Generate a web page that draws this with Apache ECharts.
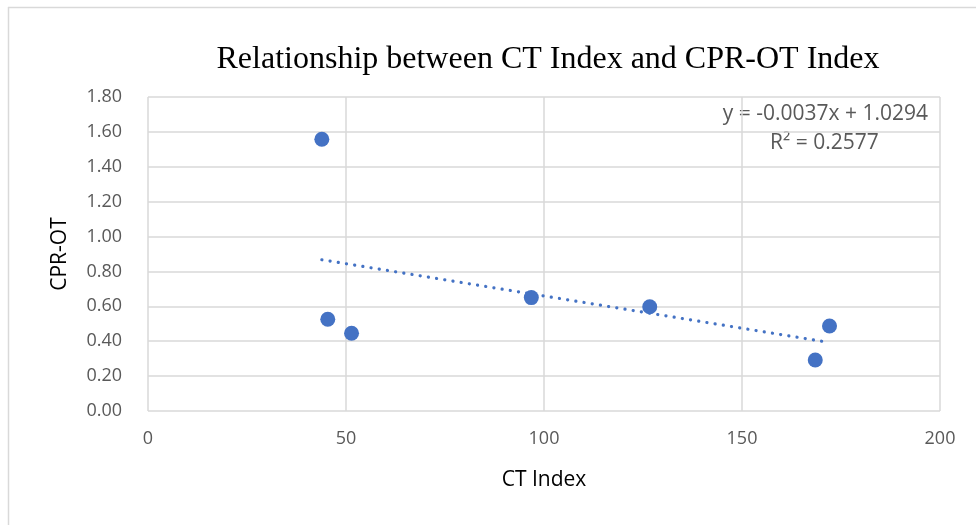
<!DOCTYPE html>
<html>
<head>
<meta charset="utf-8">
<script src="https://cdn.jsdelivr.net/npm/echarts@6/dist/echarts.min.js"></script>
<style>
  html, body { margin: 0; padding: 0; background: #fff; }
  #chart { width: 976px; height: 525px; }
</style>
</head>
<body>
<div id="chart"></div>
<script>
// CT Index vs CPR-OT Index observations
const ctIndex = [43.9, 45.4, 51.4, 96.8, 126.7, 168.5, 172.1];
const cprOt   = [1.558, 0.526, 0.446, 0.650, 0.598, 0.292, 0.487];

// Linear trendline coefficients (y = slope * x + intercept)
const slope = -0.0037;
const intercept = 1.0294;
const rSquared = 0.2577;

const xTicks = { min: 0, max: 200, interval: 50 };
const yTicks = { min: 0, max: 1.8, interval: 0.2 };

const points = ctIndex.map((x, i) => [x, cprOt[i]]);
const xLo = Math.min(...ctIndex);
const xHi = Math.max(...ctIndex);
const trend = [[xLo, slope * xLo + intercept], [xHi, slope * xHi + intercept]];

const labelFont = '"Open Sans", "Liberation Sans", sans-serif';
const textColor = '#595959';
const gridColor = '#D9D9D9';
const blue = '#4472C4';

const chart = echarts.init(document.getElementById('chart'), null, { renderer: 'canvas' });

chart.setOption({
  backgroundColor: '#ffffff',
  animation: false,
  title: {
    text: 'Relationship between CT Index and CPR-OT Index',
    left: 543,
    top: 39,
    textAlign: 'center',
    textStyle: {
      fontFamily: '"Liberation Serif", "Times New Roman", serif',
      fontSize: 32,
      fontWeight: 'normal',
      color: '#000000'
    }
  },
  grid: { left: 148, right: 36, top: 97, bottom: 114, containLabel: false },
  xAxis: {
    type: 'value',
    min: xTicks.min, max: xTicks.max, interval: xTicks.interval,
    name: 'CT Index',
    nameLocation: 'middle',
    nameGap: 59,
    nameTextStyle: { fontFamily: labelFont, fontSize: 21, color: '#000' },
    axisLine: { show: false },
    axisTick: { show: false },
    axisLabel: { fontFamily: labelFont, fontSize: 18, color: textColor, margin: 19 },
    splitLine: { show: true, lineStyle: { color: gridColor, width: 1.5 } }
  },
  yAxis: {
    type: 'value',
    min: yTicks.min, max: yTicks.max, interval: yTicks.interval,
    name: 'CPR-OT',
    nameLocation: 'middle',
    nameGap: 77,
    nameRotate: 90,
    nameTextStyle: { fontFamily: labelFont, fontSize: 21, color: '#000' },
    axisLine: { show: false },
    axisTick: { show: false },
    axisLabel: {
      fontFamily: labelFont, fontSize: 18, color: textColor, margin: 26,
      formatter: v => v.toFixed(2)
    },
    splitLine: { show: true, lineStyle: { color: gridColor, width: 1.5 } }
  },
  series: [
    {
      name: 'Linear trend',
      type: 'line',
      data: trend,
      symbol: 'none',
      z: 3,
      lineStyle: { color: blue, width: 3.2, type: [0.1, 8.2], cap: 'round' }
    },
    {
      name: 'CPR-OT',
      type: 'scatter',
      data: points,
      symbolSize: 15,
      z: 4,
      itemStyle: { color: blue, opacity: 1 }
    }
  ],
  graphic: [
    { type: 'line', shape: { x1: 8.5, y1: 7, x2: 8.5, y2: 525 }, style: { stroke: '#D9D9D9', lineWidth: 1.5 } },
    { type: 'line', shape: { x1: 8, y1: 7.5, x2: 976, y2: 7.5 }, style: { stroke: '#D9D9D9', lineWidth: 1.5 } },
    {
      type: 'text', right: 48, top: 104,
      style: { text: 'y = -0.0037x + ' + intercept.toFixed(4), font: '21px ' + labelFont, fill: textColor }
    },
    {
      type: 'text', left: 770, top: 133,
      style: { text: 'R² = ' + rSquared.toFixed(4), font: '21px ' + labelFont, fill: textColor }
    }
  ]
});
</script>
</body>
</html>
